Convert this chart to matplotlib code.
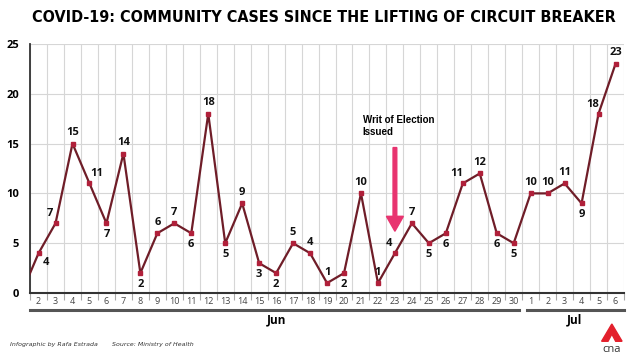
import matplotlib
matplotlib.use('Agg')
from matplotlib import pyplot as plt
from matplotlib.patches import Polygon, FancyArrow
from matplotlib.lines import Line2D
import matplotlib.transforms as mtransforms

# community cases, 1 Jun .. 6 Jul
day_labels = [str(d) for d in range(1, 31)] + [str(d) for d in range(1, 7)]
cases = [0, 4, 7, 15, 11, 7, 14, 2, 6, 7, 6, 18, 5, 9, 3, 2, 5, 4, 1, 2,
         10, 1, 4, 7, 5, 6, 11, 12, 6, 5, 10, 10, 11, 9, 18, 23]
# where the value label sits relative to its point
label_side = ['', 'SE', 'NW', 'N', 'NE', 'S', 'N', 'S', 'N', 'N', 'S', 'N', 'S', 'N',
              'S', 'S', 'N', 'N', 'N', 'S', 'N', 'N', 'NW', 'N', 'S', 'S', 'NW', 'N',
              'S', 'S', 'N', 'N', 'N', 'S', 'NW', 'N']
months = ['Jun', 'Jul']
title = 'COVID-19: COMMUNITY CASES SINCE THE LIFTING OF CIRCUIT BREAKER'

offsets = {'N': (0, 4, 'center', 'bottom'), 'S': (0, -4, 'center', 'top'),
           'NW': (-4, 3, 'center', 'bottom'), 'NE': (5, 3, 'center', 'bottom'),
           'SE': (5, -3, 'center', 'top')}

lab_font = ['Open Sans', 'DejaVu Sans']

fig = plt.figure(figsize=(6.4, 3.6), dpi=100)
ax = fig.add_axes([0.047, 0.186, 0.928, 0.692])

x = list(range(len(cases)))
ax.plot(x, cases, color='#6f1d28', lw=1.6, zorder=3, clip_on=True)
ax.plot(x, cases, ls='none', marker='s', ms=3, color='#b0203a', zorder=4)

for xi, v, side in zip(x, cases, label_side):
    if not side:
        continue
    dx, dy, ha, va = offsets[side]
    ax.annotate(str(v), (xi, v), xytext=(dx, dy), textcoords='offset points',
                ha=ha, va=va, fontsize=8, fontweight='bold', family=lab_font,
                color='#111111', zorder=5)

ax.set_xlim(0.5, 35.5)
ax.set_ylim(0, 25)
ax.set_xticks(x[1:])
ax.set_xticklabels(day_labels[1:], fontsize=6.5, color='#444444', family=lab_font)
ax.set_xticks([i + 0.5 for i in x], minor=True)
ax.set_yticks([0, 5, 10, 15, 20, 25])
ax.set_yticklabels(['0', '5', '10', '15', '20', '25'], fontsize=8,
                   fontweight='bold', family=lab_font)
ax.tick_params(axis='x', which='major', length=0, pad=3)
ax.tick_params(axis='x', which='minor', length=5, color='#aaaaaa', width=0.8)
ax.tick_params(axis='y', length=0, pad=8)
ax.grid(which='minor', axis='x', color='#d6d6d6', lw=0.8)
ax.grid(which='major', axis='y', color='#d6d6d6', lw=0.8)
ax.set_axisbelow(True)
for s in ['top', 'right']:
    ax.spines[s].set_visible(False)
ax.spines['left'].set_color('#333333')
ax.spines['bottom'].set_color('#333333')
ax.spines['left'].set_linewidth(1.3)
ax.spines['bottom'].set_linewidth(1.5)

# month brackets under the day labels
trans = mtransforms.blended_transform_factory(ax.transData, fig.transFigure)
for x0, x1, xm, name in [(0.5, 29.3, 15.0, months[0]), (29.8, 35.5, 32.6, months[1])]:
    fig.add_artist(Line2D([x0, x1], [0.139, 0.139], transform=trans,
                          color='#555555', lw=2.2))
    fig.text(xm, 0.112, name, transform=trans, ha='center', va='center',
             fontsize=8.5, fontweight='bold', family=lab_font)

# writ of election
ax.add_patch(FancyArrow(22, 14.6, 0, -8.4, width=0.22, head_width=1.0,
                        head_length=1.5, length_includes_head=True,
                        color='#e8336f', zorder=6))
ax.text(20.1, 17.9, 'Writ of Election\nIssued', fontsize=7, fontweight='bold',
        family=['Liberation Sans', 'DejaVu Sans'], va='top', ha='left',
        linespacing=1.25, zorder=6)

# title: shrink until it spans the same width as the original (~582 px)
t = fig.text(0.506, 0.952, title, ha='center', va='center', fontsize=12.5,
             fontweight='bold', fontstretch='condensed',
             family=['DejaVu Sans', 'Liberation Sans'])
r = fig.canvas.get_renderer()
w = t.get_window_extent(renderer=r).width
if w > 582:
    t.set_fontsize(12.5 * 582 / w)

fig.text(0.016, 0.042, 'Infographic by Rafa Estrada', fontsize=4.5, style='italic',
         color='#333333', va='center')
fig.text(0.175, 0.042, 'Source: Ministry of Health', fontsize=4.5, style='italic',
         color='#333333', va='center')

# logo
fig.add_artist(Polygon([(0.956, 0.1), (0.972, 0.052), (0.962, 0.052),
                        (0.956, 0.072), (0.950, 0.052), (0.940, 0.052)],
                       closed=True, transform=fig.transFigure, color='#e3202c'))
fig.text(0.956, 0.03, 'cna', ha='center', va='center', fontsize=8,
         color='#333333', family=lab_font)

fig.savefig('out.png', dpi=100)
